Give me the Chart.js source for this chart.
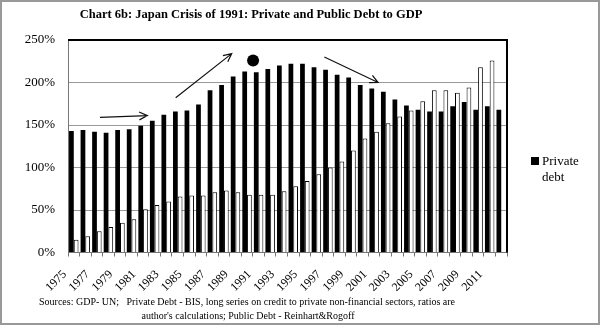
<!DOCTYPE html>
<html>
<head>
<meta charset="utf-8">
<script src="https://cdn.jsdelivr.net/npm/chart.js@4"></script>
<style>
  body { margin: 0; background: #fff; }
</style>
</head>
<body>
<canvas id="debtChart" width="600" height="325"></canvas>
<script>
// Japan: debt to GDP, percent
var years = [1975, 1976, 1977, 1978, 1979, 1980, 1981, 1982, 1983, 1984,
             1985, 1986, 1987, 1988, 1989, 1990, 1991, 1992, 1993, 1994,
             1995, 1996, 1997, 1998, 1999, 2000, 2001, 2002, 2003, 2004,
             2005, 2006, 2007, 2008, 2009, 2010, 2011, 2012];
var privateDebt = [143, 144, 142, 141, 144, 145, 149, 155, 162, 166,
                   167, 174, 191, 197, 207, 213, 212, 216, 220, 222,
                   222, 218, 215, 209, 206, 197, 193, 189, 180, 173,
                   168, 166, 166, 172, 177, 168, 172, 168];
var publicDebt = [15, 19, 25, 30, 35, 39, 51, 56, 60, 66,
                  67, 67, 71, 73, 71, 68, 68, 68, 72, 78,
                  84, 92, 100, 107, 120, 134, 142, 152, 160, 167,
                  178, 191, 191, 188, 194, 218, 226, null];
var yTicks = [0, 50, 100, 150, 200, 250];

var titleText = 'Chart 6b: Japan Crisis of 1991: Private and Public Debt to GDP';
var sourceLines = [
  'Sources: GDP- UN;   Private Debt - BIS, long series on credit to private non-financial sectors, ratios are',
  "author's calculations; Public Debt - Reinhart&Rogoff"
];

// trend arrows in (category index, percent)
var arrows = [
  { from: [2.27, 159], to: [6.37, 161] },
  { from: [8.82, 182], to: [13.67, 234] },
  { from: [21.69, 230], to: [26.34, 200] }
];
var crisisDot = [15.52, 226];

var serif = '"Liberation Serif", "DejaVu Serif", serif';

function drawArrow(ctx, x1, y1, x2, y2) {
  var ang = Math.atan2(y2 - y1, x2 - x1), head = 9;
  ctx.beginPath();
  ctx.moveTo(x1, y1);
  ctx.lineTo(x2, y2);
  ctx.moveTo(x2 - head * Math.cos(ang - 0.45), y2 - head * Math.sin(ang - 0.45));
  ctx.lineTo(x2, y2);
  ctx.lineTo(x2 - head * Math.cos(ang + 0.45), y2 - head * Math.sin(ang + 0.45));
  ctx.stroke();
}

var decorations = {
  id: 'decorations',
  afterDraw: function (chart) {
    var ctx = chart.ctx, a = chart.chartArea;
    var sx = chart.scales.x, sy = chart.scales.y;
    ctx.save();

    // plot area border (top and right)
    ctx.strokeStyle = '#000';
    ctx.lineWidth = 2;
    ctx.beginPath();
    ctx.moveTo(a.left, a.top);
    ctx.lineTo(a.right, a.top);
    ctx.lineTo(a.right, a.bottom);
    ctx.stroke();

    // arrows
    ctx.lineWidth = 1.2;
    ctx.strokeStyle = '#111';
    arrows.forEach(function (ar) {
      drawArrow(ctx,
        sx.getPixelForValue(ar.from[0]), sy.getPixelForValue(ar.from[1]),
        sx.getPixelForValue(ar.to[0]), sy.getPixelForValue(ar.to[1]));
    });

    // crisis marker
    ctx.fillStyle = '#000';
    ctx.beginPath();
    ctx.arc(sx.getPixelForValue(crisisDot[0]), sy.getPixelForValue(crisisDot[1]), 6, 0, Math.PI * 2);
    ctx.fill();

    // legend
    ctx.fillRect(531, 157, 8, 8);
    ctx.font = '13px ' + serif;
    ctx.textAlign = 'left';
    ctx.textBaseline = 'middle';
    ctx.fillText('Private', 542, 162);
    ctx.fillText('debt', 542, 178);

    // title
    ctx.font = 'bold 12.5px ' + serif;
    ctx.textAlign = 'center';
    ctx.fillText(titleText, 251, 15);

    // sources
    ctx.font = '10px ' + serif;
    ctx.fillText(sourceLines[0], 247, 302);
    ctx.fillText(sourceLines[1], 248, 316);

    // outer frame
    ctx.strokeStyle = '#999';
    ctx.lineWidth = 2;
    ctx.strokeRect(1, 1, 598, 323);
    ctx.restore();
  }
};

var ctx = document.getElementById('debtChart').getContext('2d');
var chart = new Chart(ctx, {
  type: 'bar',
  data: {
    labels: years,
    datasets: [{
      label: 'Private debt',
      data: privateDebt,
      backgroundColor: '#000',
      borderWidth: 0
    }, {
      label: 'Public debt',
      data: publicDebt,
      backgroundColor: '#fff',
      borderColor: '#000',
      borderWidth: 1
    }]
  },
  options: {
    responsive: false,
    animation: false,
    layout: { padding: { left: 0, right: 93, top: 40, bottom: 30 } },
    datasets: { bar: { categoryPercentage: 0.82, barPercentage: 1 } },
    plugins: {
      legend: { display: false },
      title: { display: false },
      tooltip: { enabled: false }
    },
    scales: {
      x: {
        grid: { drawOnChartArea: false, tickLength: 4, color: '#777' },
        border: { color: '#777' },
        ticks: {
          autoSkip: false,
          maxRotation: 45,
          minRotation: 45,
          padding: 11,
          labelOffset: -9,
          color: '#000',
          font: { family: serif, size: 12 },
          callback: function (v, i) { return i % 2 === 0 ? String(years[i]) : ''; }
        },
        afterFit: function (s) { s.height = 42.5; }
      },
      y: {
        min: 0,
        max: 250,
        afterBuildTicks: function (s) { s.ticks = yTicks.map(function (v) { return { value: v }; }); },
        grid: { color: '#999', drawTicks: false },
        border: { color: '#777' },
        ticks: {
          padding: 13,
          color: '#000',
          font: { family: serif, size: 13 },
          callback: function (v) { return v + '%'; }
        },
        afterFit: function (s) { s.width = 68; }
      }
    }
  },
  plugins: [decorations]
});
</script>
</body>
</html>
